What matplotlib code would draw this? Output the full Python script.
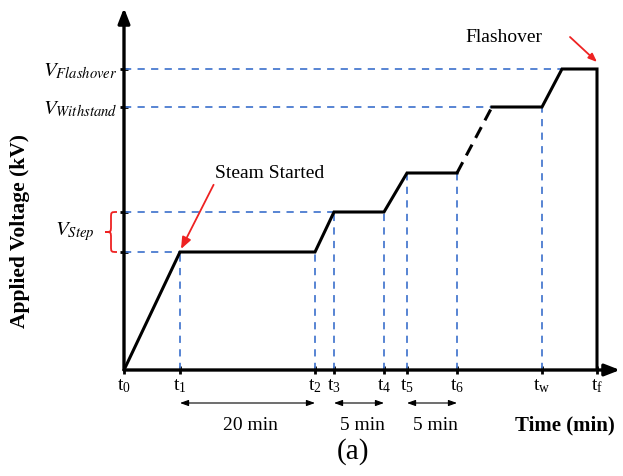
import matplotlib
matplotlib.use("Agg")
import matplotlib.pyplot as plt
from matplotlib.path import Path
import matplotlib.patches as mpatches

plt.rcParams["font.family"] = ["Liberation Serif", "DejaVu Serif"]
plt.rcParams["mathtext.fontset"] = "stix"

# schematic time instants (arbitrary units) and tick labels
T_NAMES = ["0", "1", "2", "3", "4", "5", "6", "w", "f"]
T_VALS = [0, 5.6, 19.1, 21.0, 26.0, 28.3, 33.3, 41.8, 47.3]
T_RAMP_END = 36.8      # end of the dashed ramp up to V_withstand
T_FLASH_START = 43.8   # start of flashover plateau

# voltage levels (arbitrary units)
V_STEP1 = 11.8
V_STEP2 = 15.8
V_STEP3 = 19.7
V_WITHSTAND = 26.3
V_FLASH = 30.1

# profile pieces
prof1_t = [T_VALS[0], T_VALS[1], T_VALS[2], T_VALS[3], T_VALS[4], T_VALS[5], T_VALS[6]]
prof1_v = [0, V_STEP1, V_STEP1, V_STEP2, V_STEP2, V_STEP3, V_STEP3]
prof2_t = [T_VALS[6], T_RAMP_END]
prof2_v = [V_STEP3, V_WITHSTAND]
prof3_t = [T_RAMP_END, T_VALS[7], T_FLASH_START, T_VALS[8], T_VALS[8]]
prof3_v = [V_WITHSTAND, V_WITHSTAND, V_FLASH, V_FLASH, 0]

C_BLUE = "#4a7bd0"
C_RED = "#ee2222"
XMAX, YMAX = 49.6, 36.2

fig = plt.figure(figsize=(6.23, 4.76), dpi=100)
ax = fig.add_axes([124 / 623, 106 / 476, 496 / 623, 362 / 476])
ax.set_xlim(0, XMAX)
ax.set_ylim(0, YMAX)
for s in ax.spines.values():
    s.set_visible(False)

# axes with arrow heads
ax.annotate("", xy=(XMAX, 0), xytext=(0, 0),
            arrowprops=dict(arrowstyle="-|>,head_length=0.9,head_width=0.35",
                            color="black", lw=2.4, shrinkA=0, shrinkB=0),
            annotation_clip=False)
ax.annotate("", xy=(0, YMAX), xytext=(0, 0),
            arrowprops=dict(arrowstyle="-|>,head_length=0.9,head_width=0.35",
                            color="black", lw=2.4, shrinkA=0, shrinkB=0),
            annotation_clip=False)

# blue guide lines
dash = (0, (4, 3.5))
for v, t in [(V_STEP1, T_VALS[1]), (V_STEP2, T_VALS[3]),
             (V_WITHSTAND, T_RAMP_END), (V_FLASH, T_FLASH_START)]:
    ax.plot([0, t], [v, v], color=C_BLUE, lw=1.3, ls=dash)
for t, v in [(T_VALS[1], V_STEP1), (T_VALS[2], V_STEP1), (T_VALS[3], V_STEP2),
             (T_VALS[4], V_STEP2), (T_VALS[5], V_STEP3), (T_VALS[6], V_STEP3),
             (T_VALS[7], V_WITHSTAND)]:
    ax.plot([t, t], [0, v], color=C_BLUE, lw=1.3, ls=dash)

# voltage profile
ax.plot(prof1_t, prof1_v, color="black", lw=2.2, solid_joinstyle="miter")
ax.plot(prof2_t, prof2_v, color="black", lw=2.2, ls=(0, (4, 2.5)))
ax.plot(prof3_t, prof3_v, color="black", lw=2.2, solid_joinstyle="miter")

# ticks
ax.set_xticks(T_VALS)
ax.set_xticklabels([r"$\mathregular{t_{%s}}$" % n for n in T_NAMES], fontsize=14)
ax.set_yticks([V_STEP1, V_STEP2, V_WITHSTAND, V_FLASH])
ax.set_yticklabels(["", "", r"$V_{Withstand}$", r"$V_{Flashover}$"], fontsize=15)
ax.tick_params(axis="both", direction="inout", length=6, width=2, color="black")
ax.tick_params(axis="x", pad=2)
ax.tick_params(axis="y", pad=2)

# V_step brace
xe, xm, xt = -0.7, -1.3, -1.9
ym = (V_STEP1 + V_STEP2) / 2
verts = [(xe, V_STEP2), (xm, V_STEP2), (xm, V_STEP2), (xm, V_STEP2 - 0.6),
         (xm, ym + 0.6), (xm, ym), (xm, ym), (xt, ym),
         (xm, ym), (xm, ym), (xm, ym - 0.6),
         (xm, V_STEP1 + 0.6), (xm, V_STEP1), (xm, V_STEP1), (xe, V_STEP1)]
codes = [Path.MOVETO, Path.CURVE4, Path.CURVE4, Path.CURVE4,
         Path.LINETO, Path.CURVE4, Path.CURVE4, Path.CURVE4,
         Path.CURVE4, Path.CURVE4, Path.CURVE4,
         Path.LINETO, Path.CURVE4, Path.CURVE4, Path.CURVE4]
ax.add_patch(mpatches.PathPatch(Path(verts, codes), fill=False, ec=C_RED,
                                lw=1.3, clip_on=False))
ax.text(-2.9, ym, r"$V_{Step}$", ha="right", va="center", fontsize=15)

# annotations
ax.annotate("Steam Started", xy=(T_VALS[1] + 0.1, V_STEP1 + 0.3),
            xytext=(9.1, 18.8), fontsize=14, ha="left", va="bottom",
            arrowprops=dict(arrowstyle="-|>,head_length=0.5,head_width=0.2",
                            color=C_RED, lw=1.3, shrinkA=0, shrinkB=0,
                            relpos=(0.0, 0.0)))
ax.annotate("", xy=(T_VALS[8], V_FLASH + 0.7), xytext=(44.6, 33.3),
            arrowprops=dict(arrowstyle="-|>,head_length=0.5,head_width=0.2",
                            color=C_RED, lw=1.3, shrinkA=0, shrinkB=0),
            annotation_clip=False)
ax.text(34.1, 33.2, "Flashover", fontsize=14, ha="left", va="center")

# duration arrows
for (i, j), lab in [((1, 2), "20 min"), ((3, 4), "5 min"), ((5, 6), "5 min")]:
    ax.annotate("", xy=(T_VALS[j], -3.3), xytext=(T_VALS[i], -3.3),
                arrowprops=dict(arrowstyle="<|-|>,head_length=0.5,head_width=0.18",
                                color="black", lw=0.8, shrinkA=0, shrinkB=0),
                annotation_clip=False)
    ax.text((T_VALS[i] + T_VALS[j]) / 2 + 0.3, -5.5, lab, fontsize=14,
            ha="center", va="center")

fig.text(615 / 623, 1 - 425 / 476, "Time (min)", fontsize=15,
         fontweight="bold", ha="right", va="center")
fig.text(353 / 623, 1 - 452 / 476, "(a)", fontsize=21, ha="center", va="center")
fig.text(20 / 623, 1 - 231 / 476, "Applied Voltage (kV)", fontsize=15.5,
         fontweight="bold", rotation=90, ha="center", va="center")

fig.savefig("out.png", dpi=100)
